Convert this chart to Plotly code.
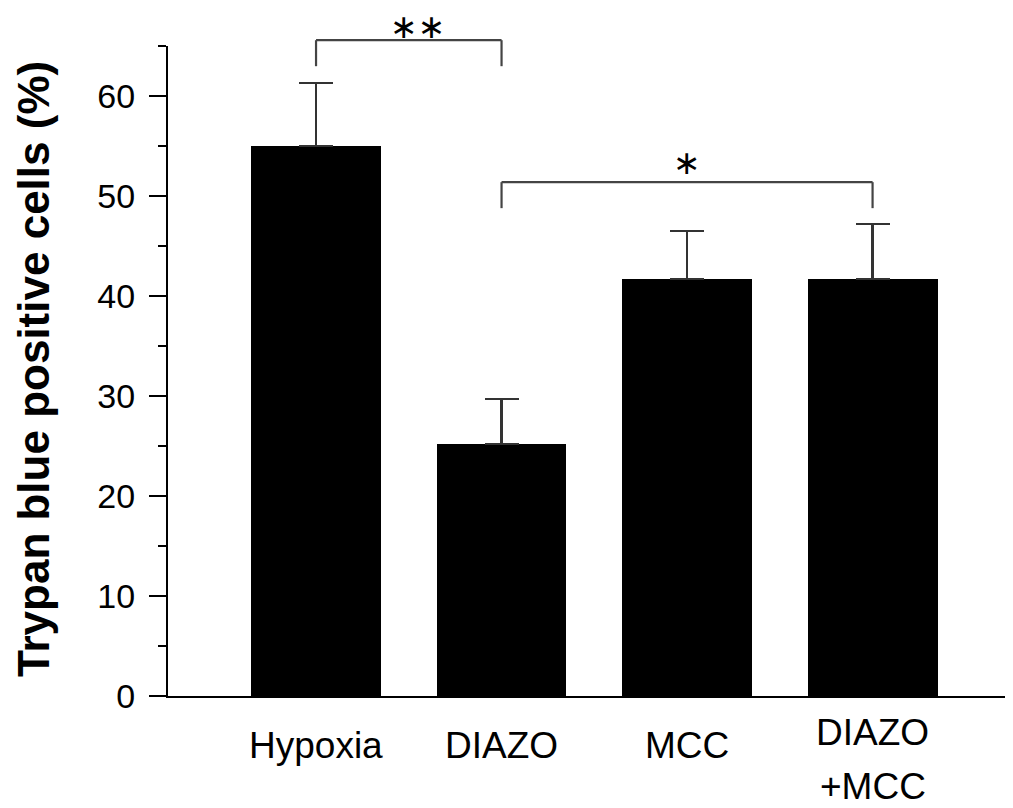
import plotly.graph_objects as go

# ---- data ----
categories = ["Hypoxia", "DIAZO", "MCC", "DIAZO+MCC"]
label_lines = [["Hypoxia"], ["DIAZO"], ["MCC"], ["DIAZO", "+MCC"]]
values = [55.0, 25.2, 41.7, 41.7]
errors = [6.3, 4.5, 4.8, 5.5]
y_tick_vals = [0, 10, 20, 30, 40, 50, 60]
y_title = "Trypan blue positive cells (%)"
# significance brackets
sig_left = [0, 1]
sig_right = [1, 3]
sig_level = [65.6, 51.4]
sig_leg_bottom = [63.0, 48.8]
sig_labels = ["\u2217\u2217", "\u2217"]

# ---- layout constants (page has an 8px body margin) ----
OFF = 8
W, H = 1013 - OFF, 808 - OFF
L, R, T = 168 - OFF, 0, 46 - OFF
B = H - (696 - OFF)
Y_MAX = 65.02
plot_h = H - T - B
plot_w = W - L - R
FONT = "Liberation Sans, Arial, Helvetica, sans-serif"

x_idx = list(range(len(categories)))

fig = go.Figure()
fig.add_trace(go.Bar(
    x=x_idx, y=values, width=0.70,
    marker=dict(color="black", line=dict(width=0)),
    error_y=dict(type="data", symmetric=False, array=errors,
                 arrayminus=[0] * len(errors),
                 color="#333333", thickness=2.2, width=17),
    showlegend=False, hoverinfo="skip",
))

shapes = []
annotations = []

def py(v):
    return v / Y_MAX

for a, b, lvl, bot, lab in zip(sig_left, sig_right, sig_level, sig_leg_bottom, sig_labels):
    line = dict(color="#444444", width=2.2)
    shapes.append(dict(type="line", xref="x", yref="paper", x0=a, x1=b, y0=py(lvl), y1=py(lvl), line=line))
    shapes.append(dict(type="line", xref="x", yref="paper", x0=a, x1=a, y0=py(lvl), y1=py(bot), line=line))
    shapes.append(dict(type="line", xref="x", yref="paper", x0=b, x1=b, y0=py(lvl), y1=py(bot), line=line))
    annotations.append(dict(
        x=(a + b) / 2, y=py(lvl), xref="x", yref="paper", text=lab,
        showarrow=False, yanchor="middle", xanchor="center",
        borderpad=0, borderwidth=0,
        yshift=14 if len(lab) > 1 else 20,
        xshift=9 if len(lab) > 1 else 0,
        font=dict(family="DejaVu Sans, sans-serif", size=33, color="black"),
    ))

# category labels
for i, lines in enumerate(label_lines):
    if len(lines) == 1:
        centers = [745.5]
    else:
        centers = [732, 786]
    for txt, c in zip(lines, centers):
        annotations.append(dict(
            x=i, y=(696 - c) / plot_h, xref="x", yref="paper", text=txt,
            showarrow=False, xanchor="center", yanchor="middle",
            font=dict(family=FONT, size=37, color="black"),
        ))

annotations.append(dict(
    x=(33 - 168) / plot_w, y=(696 - 369) / plot_h, xref="paper", yref="paper",
    text="<b>" + y_title + "</b>", textangle=-90, showarrow=False,
    xanchor="center", yanchor="middle",
    font=dict(family=FONT, size=44, color="black"),
))

fig.update_layout(
    width=W, height=H,
    margin=dict(l=L, r=R, t=T, b=B, pad=0),
    paper_bgcolor="white", plot_bgcolor="white",
    shapes=shapes, annotations=annotations,
    bargap=0,
    xaxis=dict(range=[-0.798, 3.757], showticklabels=False, ticks="",
               showline=True, linewidth=2, linecolor="black",
               showgrid=False, zeroline=False, fixedrange=True),
    yaxis=dict(range=[0, Y_MAX], tickvals=y_tick_vals, ticks="outside",
               ticklen=17, tickwidth=2, tickcolor="black",
               minor=dict(ticks="outside", ticklen=8, tickwidth=2,
                          tickcolor="black", tick0=0, dtick=5),
               showline=True, linewidth=2, linecolor="black",
               showgrid=False, zeroline=False,
               tickfont=dict(family=FONT, size=34, color="black"),
               ticklabelstandoff=7, fixedrange=True),
)

fig.write_html("out.html")
